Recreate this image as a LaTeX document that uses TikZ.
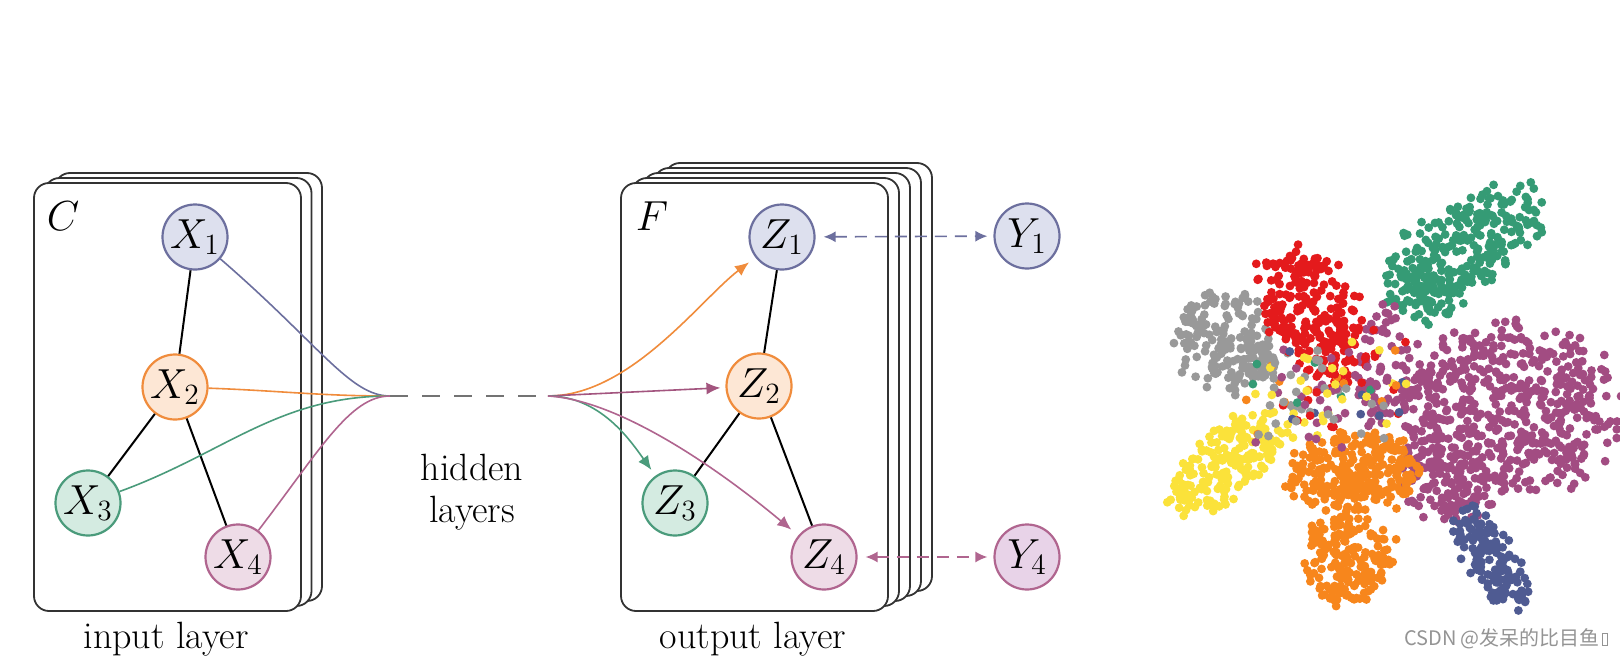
\RequirePackage{fix-cm}
\documentclass[tikz,border=0pt]{standalone}
\usepackage{fontspec}
\newfontfamily\cjk{Noto Sans CJK SC}
\usetikzlibrary{arrows.meta}
\definecolor{cB}{HTML}{6C6F9E}
\definecolor{cBl}{HTML}{DDE0EE}
\definecolor{cO}{HTML}{F08C3C}
\definecolor{cOl}{HTML}{FDE7D5}
\definecolor{cG}{HTML}{4A9B7B}
\definecolor{cGl}{HTML}{D4EBE1}
\definecolor{cP}{HTML}{B0658F}
\definecolor{cPl}{HTML}{EEDCE7}
\definecolor{cYl}{HTML}{E8D3E8}
\definecolor{cM}{HTML}{A3557F}
\definecolor{sGreen}{HTML}{359B75}
\definecolor{sRed}{HTML}{E41A1C}
\definecolor{sGray}{HTML}{999999}
\definecolor{sPurple}{HTML}{A24C82}
\definecolor{sYellow}{HTML}{FBE23A}
\definecolor{sOrange}{HTML}{F7861C}
\definecolor{sBlue}{HTML}{4F5B92}
\tikzset{
  nd/.style={circle, minimum size=32.5pt, inner sep=0pt, line width=1.1pt, font=\fontsize{21}{24}\selectfont},
  ndB/.style={nd, draw=cB, fill=cBl},
  ndO/.style={nd, draw=cO, fill=cOl},
  ndG/.style={nd, draw=cG, fill=cGl},
  ndP/.style={nd, draw=cP, fill=cPl},
  card/.style={draw=black!80, fill=white, rounded corners=7.5pt, line width=0.9pt},
  edge/.style={line width=1pt, black},
  feed/.style={line width=0.8pt},
  arr/.style={-{Latex[length=7pt,width=6pt]}},
  darr/.style={{Latex[length=6pt,width=5.5pt]}-{Latex[length=6pt,width=5.5pt]}, line width=0.8pt, dash pattern=on 6pt off 4pt},
  lbl/.style={font=\fontsize{19}{22}\selectfont, inner sep=0pt},
  mlbl/.style={font=\fontsize{21}{24}\selectfont, inner sep=0pt},
}
% elliptical blob of dots: color, N, cx, cy, sx, sy, angle
\newcommand{\scblob}[7]{%
  \foreach \i in {1,...,#2}{%
    \pgfmathsetmacro{\sRr}{sqrt(rnd)*(0.8+0.3*rnd)}%
    \pgfmathsetmacro{\sTt}{360*rnd}%
    \pgfmathsetmacro{\ua}{#5*\sRr*cos(\sTt)}%
    \pgfmathsetmacro{\ub}{#6*\sRr*sin(\sTt)}%
    \pgfmathsetmacro{\px}{#3+\ua*cos(#7)-\ub*sin(#7)}%
    \pgfmathsetmacro{\py}{#4+\ua*sin(#7)+\ub*cos(#7)}%
    \fill[#1] (\px,\py) circle[radius=2.2pt];
  }}
\pgfmathdeclarerandomlist{mixcols}{{sGreen}{sRed}{sGray}{sPurple}{sYellow}{sOrange}{sBlue}{sPurple}{sYellow}{sPurple}{sGray}}
\newcommand{\scmix}[5]{%
  \foreach \i in {1,...,#1}{%
    \pgfmathsetmacro{\px}{#2+(rand+rand)/2*#4}%
    \pgfmathsetmacro{\py}{#3+(rand+rand)/2*#5}%
    \pgfmathrandomitem{\mc}{mixcols}%
    \fill[\mc] (\px,\py) circle[radius=2.2pt];
  }}
\begin{document}
\begin{tikzpicture}[x=0.5pt,y=-0.5pt]
\useasboundingbox (0,0) rectangle (1620,658);
% input cards
\foreach \k in {2,1,0}{
  \draw[card] (34+\k*10.5,183-\k*5) rectangle (301+\k*10.5,611-\k*5);
}
% output cards
\foreach \k in {4,3,2,1,0}{
  \draw[card] (621+\k*11,183-\k*5) rectangle (888+\k*11,611-\k*5);
}
\node[mlbl] (lC) at (63,216) {$C$};
\node[mlbl] (lF) at (652,216) {$F$};
\node[lbl] (lin) at (166,639) {input layer};
\node[lbl] (lout) at (753,639) {output layer};
\node[lbl] (lh1) at (472,467) {hidden};
\node[lbl] (lh2) at (472,513) {layers};

\coordinate (c1) at (390,396);
\coordinate (c2) at (548,396);

% input nodes
\node[ndB] (X1) at (195,237) {$X_1$};
\node[ndO] (X2) at (175,387) {$X_2$};
\node[ndG] (X3) at (88,503) {$X_3$};
\node[ndP] (X4) at (238,557) {$X_4$};
\draw[edge] (X1) -- (X2);
\draw[edge] (X2) -- (X3);
\draw[edge] (X2) -- (X4);

\draw[feed, cB] (X1) .. controls (320,345) and (350,396) .. (c1);
\draw[feed, cO] (X2) to[out=-2,in=180] (c1);
\draw[feed, cG] (X3) to[out=20,in=180] (c1);
\draw[feed, cP] (X4) .. controls (320,450) and (350,396) .. (c1);

\draw[feed, black!55, dash pattern=on 9pt off 7pt] (c1) -- (c2);

% output nodes
\node[ndB] (Z1) at (782,237) {$Z_1$};
\node[ndO] (Z2) at (759,386) {$Z_2$};
\node[ndG] (Z3) at (675,503) {$Z_3$};
\node[ndP] (Z4) at (824,557) {$Z_4$};
\node[ndB] (Y1) at (1027,236) {$Y_1$};
\node[nd, draw=cP, fill=cYl] (Y4) at (1027,557) {$Y_4$};
\draw[edge] (Z1) -- (Z2);
\draw[edge] (Z2) -- (Z3);
\draw[edge] (Z2) -- (Z4);

\draw[feed, cO, arr, shorten >=4pt] (c2) .. controls (630,396) and (700,300) .. (Z1);
\draw[feed, cM, arr, shorten >=2.5pt] (c2) -- (Z2);
\draw[feed, cG, arr, shorten >=3.5pt] (c2) .. controls (600,396) and (630,440) .. (Z3);
\draw[feed, cP, arr, shorten >=4.5pt] (c2) .. controls (620,400) and (720,470) .. (Z4);

\draw[darr, cB, shorten <=4pt, shorten >=3pt] (Z1) -- (Y1);
\draw[darr, cP, shorten <=4pt, shorten >=3pt] (Z4) -- (Y4);

% scatter plot
\pgfmathsetseed{11}
\scblob{sGray}{150}{1222}{338}{50}{55}{0}
\scblob{sGray}{30}{1265}{360}{25}{25}{0}
\scblob{sGreen}{260}{1465}{245}{92}{44}{-32}
\scblob{sGreen}{60}{1425}{295}{40}{28}{0}
\scblob{sPurple}{560}{1505}{410}{110}{90}{0}
\scblob{sPurple}{90}{1450}{485}{50}{40}{0}
\scblob{sPurple}{60}{1385}{365}{28}{65}{0}
\scblob{sRed}{250}{1315}{315}{82}{46}{60}
\scblob{sYellow}{190}{1225}{465}{75}{34}{-38}
\scblob{sOrange}{250}{1355}{472}{70}{42}{0}
\scblob{sOrange}{190}{1350}{558}{46}{52}{0}
\scblob{sBlue}{140}{1490}{560}{62}{25}{58}
\scmix{130}{1320}{395}{100}{60}

% watermark
\node[inner sep=0pt, text=black!42, font=\cjk\fontsize{10}{12}\selectfont] (wm) at (1502,639) {CSDN @发呆的比目鱼};
\node[draw=black!42, line width=0.4pt, minimum width=2.5pt, minimum height=6pt, inner sep=0pt, anchor=west, xshift=1pt] (tofu) at (wm.east) {};
\end{tikzpicture}
\end{document}
